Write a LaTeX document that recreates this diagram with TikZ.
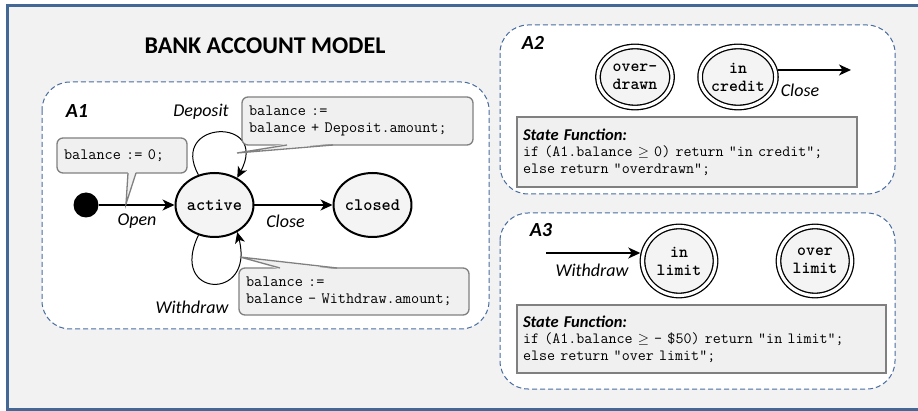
\documentclass[tikz,border=0pt]{standalone}
\usepackage{fontspec}
\setmainfont{Carlito}
\usetikzlibrary{shapes.geometric,arrows.meta,calc}

\definecolor{framecol}{RGB}{68,104,150}
\definecolor{dashcol}{RGB}{72,108,160}
\definecolor{bgcol}{RGB}{242,242,242}
\definecolor{callfill}{RGB}{240,240,240}
\definecolor{callline}{RGB}{128,128,128}
\definecolor{statefill}{RGB}{244,244,244}

\begin{document}
\begin{tikzpicture}[x=1pt,y=-1pt,
    panel/.style={draw=dashcol,line width=1pt,dash pattern=on 5pt off 3pt,fill=white,rounded corners=28pt},
    state/.style={ellipse,draw,line width=2pt,fill=statefill,inner sep=0pt,minimum width=75pt,minimum height=64pt,font=\ttfamily\bfseries\fontsize{17.5}{18}\selectfont},
    substate/.style={ellipse,draw,line width=1.3pt,double=white,double distance=3.2pt,fill=statefill,inner sep=0pt,outer sep=2.9pt,align=center,font=\ttfamily\bfseries\fontsize{17}{18}\selectfont},
    trans/.style={-{Stealth[length=12pt,width=11pt,inset=3.5pt]},line width=1.5pt},
    loopline/.style={-{Stealth[length=11pt,width=10pt,inset=3pt]},line width=1pt},
    event/.style={font=\itshape\fontsize{18}{20}\selectfont},
    callbox/.style={draw=callline,line width=1.3pt,fill=callfill,rounded corners=6pt,anchor=north west,outer sep=0pt,align=left,inner xsep=7pt,font=\ttfamily\fontsize{15.8}{17}\selectfont},
    tail/.style={draw=callline,line width=1.3pt},
    funcbox/.style={draw=callline,line width=1.8pt,fill=callfill,anchor=north west,outer sep=0pt,align=left,inner xsep=6pt,font=\ttfamily\fontsize{15.6}{16.5}\selectfont},
    boxname/.style={font=\bfseries\itshape\fontsize{20}{24}\selectfont}]

    % page and outer frame
    \useasboundingbox (0,0) rectangle (918,411);
    \clip (0,0) rectangle (918,411);
    \draw[framecol,line width=3pt,fill=bgcol] (7.5,6) rectangle (940,409.5);

    % dashed boxes of the three automata
    \draw[panel] (42,82) rectangle (489,329);
    \draw[panel] (500,25) rectangle (895,194);
    \draw[panel] (500,213) rectangle (895,389);

    \node (title) at (265,46) {\bfseries\fontsize{24}{28}\selectfont BANK ACCOUNT MODEL};

    % A1: the account itself
    \node[boxname] (nameA1) at (77,111) {A1};
    \node[circle,fill=black,inner sep=0pt,minimum size=25pt] (init) at (86,205) {};
    \node[state] (active) at (214.5,205) {active};
    \node[state] (closed) at (372.5,205) {closed};
    \draw[trans] (init) -- (active);
    \draw[trans] (active) -- (closed);
    \node[event] (open) at (137,221) {Open};
    \node[event] (close) at (285.5,221) {Close};

    % self loops on active
    \draw[loopline] (active.118) .. controls (168,120) and (270,116) .. (active.50);
    \draw[loopline] (active.242) .. controls (168,298) and (255,302) .. (active.-50);
    \node[event] (deposit) at (201,112) {Deposit};
    \node[event] (withdraw) at (192,307) {Withdraw};

    % actions
    \node[callbox,text width=116pt,minimum height=35pt] (callopen) at (57,138) {balance := 0;};
    \coordinate (opentip) at (126,204);
    \fill[callfill] ($(callopen.south west)+(71,-1.5)$) -- (opentip) -- ($(callopen.south west)+(79,-1.5)$) -- cycle;
    \draw[tail] ($(callopen.south west)+(71,0)$) -- (opentip) -- ($(callopen.south west)+(79,0)$);

    \node[callbox,text width=217pt,minimum height=48pt] (calldep) at (242,97) {balance :=\\balance + Deposit.amount;};
    \coordinate (deptip) at (237,153);
    \fill[callfill] ($(calldep.south west)+(45,-1.5)$) -- (deptip) -- ($(calldep.south west)+(91,-1.5)$) -- cycle;
    \draw[tail] ($(calldep.south west)+(45,0)$) -- (deptip) -- ($(calldep.south west)+(91,0)$);

    \node[callbox,text width=216pt,minimum height=47pt] (callwd) at (239,268) {balance :=\\balance - Withdraw.amount;};
    \coordinate (wdtip) at (240,257);
    \fill[callfill] ($(callwd.north west)+(41,1.5)$) -- (wdtip) -- ($(callwd.north west)+(98,1.5)$) -- cycle;
    \draw[tail] ($(callwd.north west)+(41,0)$) -- (wdtip) -- ($(callwd.north west)+(98,0)$);

    % A2: credit view
    \node[boxname] (nameA2) at (533,43) {A2};
    \node[substate,minimum width=74pt,minimum height=61pt] (overdrawn) at (635,77) {over-\\drawn};
    \node[substate,minimum width=74pt,minimum height=61pt] (incredit) at (738,77) {in\\credit};
    \coordinate (closeend) at (851,70);
    \draw[trans] (incredit.10) -- (incredit.10 -| closeend);
    \node[event] (closeA2) at (800,90) {Close};
    \node[funcbox,text width=328pt,minimum height=70pt] (funcA2) at (517,117)
        {{\rmfamily\bfseries\itshape\fontsize{16.5}{17}\selectfont State Function:}\\
         if (A1.balance $\geq$ 0) return “in credit”;\\
         else return “overdrawn”;};

    % A3: limit view
    \node[boxname] (nameA3) at (541,230) {A3};
    \node[substate,minimum width=73pt,minimum height=69pt] (inlimit) at (679,261) {in\\limit};
    \node[substate,minimum width=73pt,minimum height=69pt] (overlimit) at (815,261) {over\\limit};
    \coordinate (wdstart) at (546,253);
    \draw[trans] (wdstart) -- (wdstart -| inlimit.170);
    \node[event] (withdrawA3) at (592,270) {Withdraw};
    \node[funcbox,text width=357pt,minimum height=68pt] (funcA3) at (517,305)
        {{\rmfamily\bfseries\itshape\fontsize{16.5}{17}\selectfont State Function:}\\
         if (A1.balance $\geq$ - \$50) return “in limit”;\\
         else return “over limit”;};
\end{tikzpicture}
\end{document}
